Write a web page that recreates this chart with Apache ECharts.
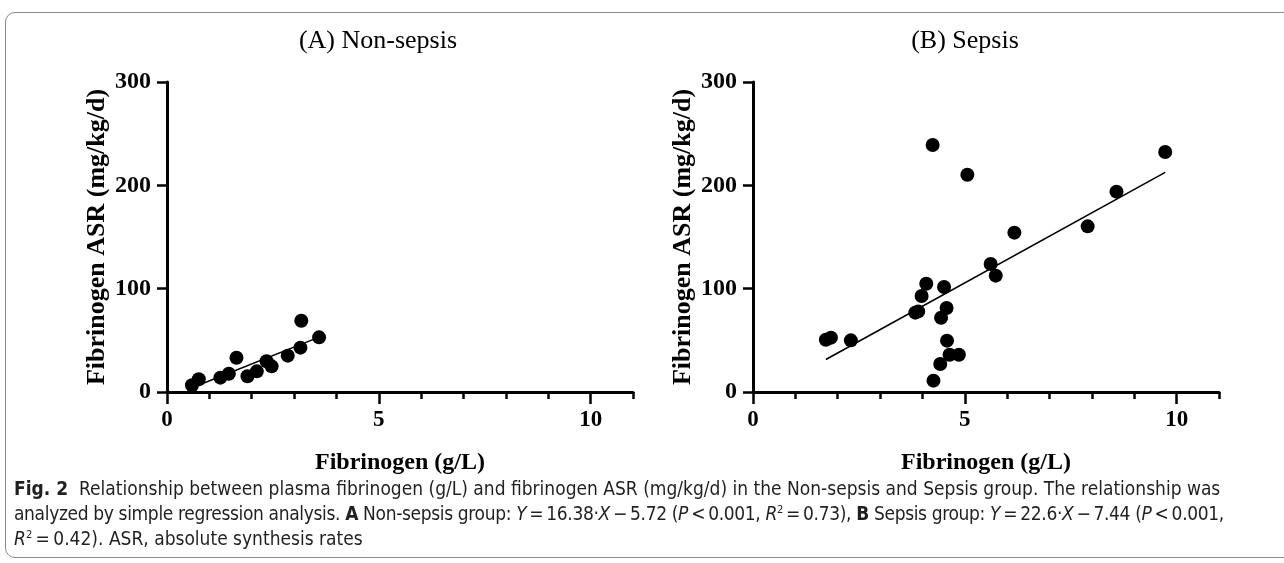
<!DOCTYPE html>
<html>
<head>
<meta charset="utf-8">
<script src="https://cdn.jsdelivr.net/npm/echarts@6/dist/echarts.min.js"></script>
<style>
  html, body { margin: 0; padding: 0; background: #fff; }
  body { width: 1284px; height: 563px; position: relative; overflow: hidden; }
  #frame {
    position: absolute; left: 5px; top: 12px; width: 1300px; height: 546px;
    border: 1px solid #8c8c8c; border-radius: 10px; box-sizing: border-box;
  }
  #chart { position: absolute; left: 0; top: 0; width: 1284px; height: 563px; }
  #caption {
    position: absolute; left: 14px; top: 476px; white-space: nowrap;
    font-family: "Liberation Sans Narrow", "DejaVu Sans Condensed", "Open Sans", sans-serif;
    font-size: 19px; line-height: 25px; color: #231f20;
  }
  #caption .l2 { letter-spacing: -0.35px; }
  #caption sup { font-size: 11px; line-height: 0; vertical-align: 7px; }
</style>
</head>
<body>
<div id="frame"></div>
<div id="chart"></div>
<div id="caption"><b>Fig. 2</b>&nbsp; Relationship between plasma fibrinogen (g/L) and fibrinogen ASR (mg/kg/d) in the Non-sepsis and Sepsis group. The relationship was<br><span class="l2">analyzed by simple regression analysis. <b>A</b> Non-sepsis group: <i>Y</i>&thinsp;=&thinsp;16.38·<i>X</i>&thinsp;−&thinsp;5.72 (<i>P</i>&thinsp;&lt;&thinsp;0.001, <i>R</i><sup>2</sup>&thinsp;=&thinsp;0.73), <b>B</b> Sepsis group: <i>Y</i>&thinsp;=&thinsp;22.6·<i>X</i>&thinsp;−&thinsp;7.44 (<i>P</i>&thinsp;&lt;&thinsp;0.001,</span><br><i>R</i><sup>2</sup>&thinsp;=&thinsp;0.42). ASR, absolute synthesis rates</div>

<script>
  // values
  const nonSepsisFib = [0.59, 0.75, 1.26, 1.46, 1.64, 1.90, 2.12, 2.35, 2.47, 2.85, 3.15, 3.17, 3.59];
  const nonSepsisASR = [6.5, 12.3, 13.9, 17.7, 33.2, 15.2, 20.0, 29.7, 24.8, 35.2, 42.9, 69.0, 52.9];

  const sepsisFib = [1.72, 1.84, 2.31, 3.83, 3.90, 3.98, 4.09, 4.24, 4.26, 4.42, 4.44, 4.51,
    4.57, 4.58, 4.64, 4.86, 5.06, 5.61, 5.73, 6.17, 7.90, 8.58, 9.73];
  const sepsisASR = [50.6, 52.6, 50.0, 76.8, 78.0, 92.9, 104.8, 239.0, 11.0, 27.1, 71.9, 101.6,
    81.3, 49.7, 36.1, 36.1, 210.3, 123.9, 112.6, 154.2, 160.3, 193.9, 232.3];

  // regression line ends (as drawn)
  const fitNonSepsisX = [0.59, 3.59];
  const fitNonSepsisY = [4.0, 53.1];
  const fitSepsisX = [1.72, 9.73];
  const fitSepsisY = [31.4, 212.5];

  const panelTitles = ['(A) Non-sepsis', '(B) Sepsis'];
  const xLabelValues = [0, 5, 10];
  const xName = 'Fibrinogen (g/L)';
  const yName = 'Fibrinogen ASR (mg/kg/d)';

  const serif = '"Liberation Serif", "Times New Roman", serif';

  function pairs(xs, ys) {
    return xs.map((x, i) => [x, ys[i]]);
  }

  const chart = echarts.init(document.getElementById('chart'), null, { renderer: 'canvas' });

  const grids = [
    { left: 167, top: 82, width: 466, height: 310 },
    { left: 753, top: 82, width: 466, height: 310 }
  ];

  let xAxes = [];
  let yAxes = [];
  grids.forEach((g, i) => {
    // main x axis: line, small ticks every 1, labels at 0/5/10
    xAxes.push({
      type: 'value', gridIndex: i, position: 'bottom', min: 0, max: 11, interval: 1,
      name: xName, nameLocation: 'middle', nameGap: 59,
      nameTextStyle: { fontFamily: serif, fontWeight: 'bold', fontSize: 24, color: '#000' },
      axisLine: { lineStyle: { color: '#000', width: 3 } },
      axisTick: { length: 7, lineStyle: { color: '#000', width: 2.5 } },
      axisLabel: {
        margin: 17, fontFamily: serif, fontWeight: 'bold', fontSize: 23, color: '#000',
        formatter: v => (xLabelValues.indexOf(v) >= 0 ? String(v) : '')
      },
      splitLine: { show: false }
    });
    // overlay axis for the longer ticks at labelled values
    xAxes.push({
      type: 'value', gridIndex: i, position: 'bottom', offset: 0, min: 0, max: 11, interval: 5,
      axisLine: { show: false },
      axisTick: { length: 12, customValues: xLabelValues, lineStyle: { color: '#000', width: 2.5 } },
      axisLabel: { show: false },
      splitLine: { show: false }
    });
    yAxes.push({
      type: 'value', gridIndex: i, min: 0, max: 300, interval: 100,
      name: yName, nameLocation: 'middle', nameGap: 57,
      nameTextStyle: { fontFamily: serif, fontWeight: 'bold', fontSize: 26, color: '#000' },
      axisLine: { show: true, lineStyle: { color: '#000', width: 3 } },
      axisTick: { show: true, length: 10, lineStyle: { color: '#000', width: 2.5 } },
      axisLabel: { margin: 16, fontFamily: serif, fontWeight: 'bold', fontSize: 24, color: '#000' },
      splitLine: { show: false }
    });
  });

  const dotStyle = { symbol: 'circle', symbolSize: 14, itemStyle: { color: '#000', opacity: 1 }, clip: false, z: 3 };
  const fitStyle = { symbol: 'none', lineStyle: { color: '#000', width: 1.6 }, clip: false, z: 2 };

  const option = {
    animation: false,
    backgroundColor: 'transparent',
    grid: grids,
    xAxis: xAxes,
    yAxis: yAxes,
    graphic: [
      { type: 'text', x: 378, y: 41, style: { text: panelTitles[0], font: '26px ' + serif, fill: '#000', textAlign: 'center', textVerticalAlign: 'middle' } },
      { type: 'text', x: 965, y: 41, style: { text: panelTitles[1], font: '26px ' + serif, fill: '#000', textAlign: 'center', textVerticalAlign: 'middle' } }
    ],
    series: [
      Object.assign({ type: 'line', xAxisIndex: 0, yAxisIndex: 0, data: pairs(fitNonSepsisX, fitNonSepsisY) }, fitStyle),
      Object.assign({ type: 'scatter', xAxisIndex: 0, yAxisIndex: 0, data: pairs(nonSepsisFib, nonSepsisASR) }, dotStyle),
      Object.assign({ type: 'line', xAxisIndex: 2, yAxisIndex: 1, data: pairs(fitSepsisX, fitSepsisY) }, fitStyle),
      Object.assign({ type: 'scatter', xAxisIndex: 2, yAxisIndex: 1, data: pairs(sepsisFib, sepsisASR) }, dotStyle)
    ]
  };

  chart.setOption(option);
</script>
</body>
</html>
